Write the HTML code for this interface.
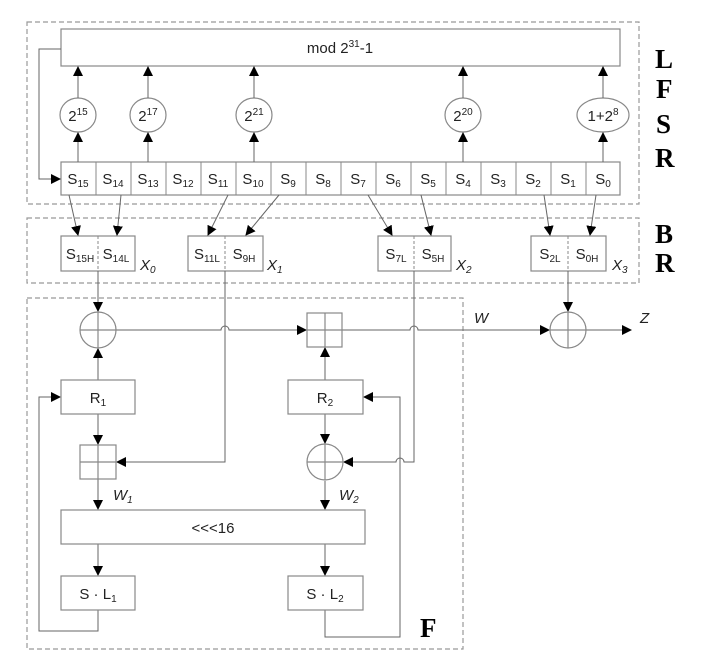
<!DOCTYPE html>
<html><head><meta charset="utf-8"><style>
html,body{margin:0;padding:0;background:#fff;}
svg{display:block;}
text{font-family:"Liberation Sans",sans-serif;fill:#222;}
.b{font-family:"Liberation Serif",serif;font-weight:bold;font-size:27px;fill:#000;}
</style></head><body>
<svg width="724" height="663" viewBox="0 0 724 663" xmlns="http://www.w3.org/2000/svg">
<defs>
<marker id="a" markerWidth="10" markerHeight="10" refX="9" refY="5" orient="auto" markerUnits="userSpaceOnUse">
<path d="M0,0 L10,5 L0,10 Z" fill="#000"/></marker>
</defs>
<g fill="none" stroke="#999" stroke-width="1.2" stroke-dasharray="5,3">
<rect x="27" y="22" width="612" height="182"/>
<rect x="27" y="218" width="612" height="65"/>
<rect x="27" y="298" width="436" height="351"/>
</g>
<g fill="#fff" stroke="#888" stroke-width="1.2">
<rect x="61" y="29" width="559" height="37"/>
<rect x="61" y="162" width="559" height="33"/>
<ellipse cx="78" cy="115" rx="18" ry="17"/>
<ellipse cx="148" cy="115" rx="18" ry="17"/>
<ellipse cx="254" cy="115" rx="18" ry="17"/>
<ellipse cx="463" cy="115" rx="18" ry="17"/>
<ellipse cx="603" cy="115" rx="26" ry="17"/>
<rect x="61" y="236" width="74" height="35"/>
<rect x="188" y="236" width="75" height="35"/>
<rect x="378" y="236" width="73" height="35"/>
<rect x="531" y="236" width="75" height="35"/>
</g>
<g stroke="#888" stroke-width="1">
<line x1="96" y1="162" x2="96" y2="195"/><line x1="131" y1="162" x2="131" y2="195"/>
<line x1="166" y1="162" x2="166" y2="195"/><line x1="201" y1="162" x2="201" y2="195"/>
<line x1="236" y1="162" x2="236" y2="195"/><line x1="271" y1="162" x2="271" y2="195"/>
<line x1="306" y1="162" x2="306" y2="195"/><line x1="341" y1="162" x2="341" y2="195"/>
<line x1="376" y1="162" x2="376" y2="195"/><line x1="411" y1="162" x2="411" y2="195"/>
<line x1="446" y1="162" x2="446" y2="195"/><line x1="481" y1="162" x2="481" y2="195"/>
<line x1="516" y1="162" x2="516" y2="195"/><line x1="551" y1="162" x2="551" y2="195"/>
<line x1="586" y1="162" x2="586" y2="195"/>
</g>
<g stroke="#888" stroke-width="1" stroke-dasharray="3,2">
<line x1="98" y1="236" x2="98" y2="271"/><line x1="225" y1="236" x2="225" y2="271"/>
<line x1="414" y1="236" x2="414" y2="271"/><line x1="568" y1="236" x2="568" y2="271"/>
</g>
<!-- arrows LFSR -->
<g stroke="#666" stroke-width="1" fill="none">
<line x1="78" y1="98" x2="78" y2="67" marker-end="url(#a)"/>
<line x1="148" y1="98" x2="148" y2="67" marker-end="url(#a)"/>
<line x1="254" y1="98" x2="254" y2="67" marker-end="url(#a)"/>
<line x1="463" y1="98" x2="463" y2="67" marker-end="url(#a)"/>
<line x1="603" y1="98" x2="603" y2="67" marker-end="url(#a)"/>
<line x1="78" y1="162" x2="78" y2="133" marker-end="url(#a)"/>
<line x1="148" y1="162" x2="148" y2="133" marker-end="url(#a)"/>
<line x1="254" y1="162" x2="254" y2="133" marker-end="url(#a)"/>
<line x1="463" y1="162" x2="463" y2="133" marker-end="url(#a)"/>
<line x1="603" y1="162" x2="603" y2="133" marker-end="url(#a)"/>
<polyline points="61,49 39,49 39,179 60,179" marker-end="url(#a)"/>
<line x1="69" y1="195" x2="78" y2="235" marker-end="url(#a)"/>
<line x1="121" y1="195" x2="117" y2="235" marker-end="url(#a)"/>
<line x1="228" y1="195" x2="208" y2="235" marker-end="url(#a)"/>
<line x1="279" y1="195" x2="246" y2="235" marker-end="url(#a)"/>
<line x1="368" y1="195" x2="392" y2="235" marker-end="url(#a)"/>
<line x1="421" y1="195" x2="431" y2="235" marker-end="url(#a)"/>
<line x1="544" y1="195" x2="550" y2="235" marker-end="url(#a)"/>
<line x1="596" y1="195" x2="590" y2="235" marker-end="url(#a)"/>
<!-- F -->
<line x1="98" y1="271" x2="98" y2="311" marker-end="url(#a)"/>
<line x1="568" y1="271" x2="568" y2="311" marker-end="url(#a)"/>
<path d="M116,330 H221 A4,4 0 0 1 229,330 H306" marker-end="url(#a)"/>
<path d="M342,330 H410 A4,4 0 0 1 418,330 H549" marker-end="url(#a)"/>
<line x1="586" y1="330" x2="631" y2="330" marker-end="url(#a)"/>
<polyline points="225,271 225,462 117,462" marker-end="url(#a)"/>
<path d="M414,271 V462 H404 A4,4 0 0 0 396,462 H344" marker-end="url(#a)"/>
<line x1="98" y1="380" x2="98" y2="349" marker-end="url(#a)"/>
<line x1="325" y1="380" x2="325" y2="348" marker-end="url(#a)"/>
<line x1="98" y1="414" x2="98" y2="444" marker-end="url(#a)"/>
<line x1="325" y1="414" x2="325" y2="443" marker-end="url(#a)"/>
<line x1="98" y1="479" x2="98" y2="509" marker-end="url(#a)"/>
<line x1="325" y1="481" x2="325" y2="509" marker-end="url(#a)"/>
<line x1="98" y1="544" x2="98" y2="575" marker-end="url(#a)"/>
<line x1="325" y1="544" x2="325" y2="575" marker-end="url(#a)"/>
<polyline points="98,610 98,631 39,631 39,397 60,397" marker-end="url(#a)"/>
<polyline points="325,610 325,637 400,637 400,397 364,397" marker-end="url(#a)"/>
</g>
<g fill="none" stroke="#888" stroke-width="1.2">
<ellipse cx="98" cy="330" rx="18" ry="18"/>
<ellipse cx="568" cy="330" rx="18" ry="18"/>
<ellipse cx="325" cy="462" rx="18" ry="18"/>
<rect x="307" y="313" width="35" height="34"/>
<rect x="80" y="445" width="36" height="34"/>
<rect x="61" y="380" width="74" height="34"/>
<rect x="288" y="380" width="75" height="34"/>
<rect x="61" y="510" width="304" height="34"/>
<rect x="61" y="576" width="74" height="34"/>
<rect x="288" y="576" width="75" height="34"/>
<line x1="80" y1="330" x2="116" y2="330"/><line x1="98" y1="312" x2="98" y2="348"/>
<line x1="550" y1="330" x2="586" y2="330"/><line x1="568" y1="312" x2="568" y2="348"/>
<line x1="307" y1="462" x2="343" y2="462"/><line x1="325" y1="444" x2="325" y2="480"/>
<line x1="307" y1="330" x2="342" y2="330"/><line x1="325" y1="313" x2="325" y2="347"/>
<line x1="80" y1="462" x2="116" y2="462"/><line x1="98" y1="445" x2="98" y2="479"/>
</g>
<g font-size="15">
<text x="340" y="53" text-anchor="middle">mod 2<tspan font-size="10" dy="-6">31</tspan><tspan dy="6">-1</tspan></text>
<text x="78" y="121" text-anchor="middle">2<tspan font-size="10" dy="-6">15</tspan></text>
<text x="148" y="121" text-anchor="middle">2<tspan font-size="10" dy="-6">17</tspan></text>
<text x="254" y="121" text-anchor="middle">2<tspan font-size="10" dy="-6">21</tspan></text>
<text x="463" y="121" text-anchor="middle">2<tspan font-size="10" dy="-6">20</tspan></text>
<text x="603" y="121" text-anchor="middle">1+2<tspan font-size="10" dy="-6">8</tspan></text>
</g>
<g font-size="15" text-anchor="middle">
<text x="78" y="184">S<tspan font-size="10" dy="3">15</tspan></text>
<text x="113" y="184">S<tspan font-size="10" dy="3">14</tspan></text>
<text x="148" y="184">S<tspan font-size="10" dy="3">13</tspan></text>
<text x="183" y="184">S<tspan font-size="10" dy="3">12</tspan></text>
<text x="218" y="184">S<tspan font-size="10" dy="3">11</tspan></text>
<text x="253" y="184">S<tspan font-size="10" dy="3">10</tspan></text>
<text x="288" y="184">S<tspan font-size="10" dy="3">9</tspan></text>
<text x="323" y="184">S<tspan font-size="10" dy="3">8</tspan></text>
<text x="358" y="184">S<tspan font-size="10" dy="3">7</tspan></text>
<text x="393" y="184">S<tspan font-size="10" dy="3">6</tspan></text>
<text x="428" y="184">S<tspan font-size="10" dy="3">5</tspan></text>
<text x="463" y="184">S<tspan font-size="10" dy="3">4</tspan></text>
<text x="498" y="184">S<tspan font-size="10" dy="3">3</tspan></text>
<text x="533" y="184">S<tspan font-size="10" dy="3">2</tspan></text>
<text x="568" y="184">S<tspan font-size="10" dy="3">1</tspan></text>
<text x="603" y="184">S<tspan font-size="10" dy="3">0</tspan></text>
<text x="80" y="259">S<tspan font-size="10" dy="3">15H</tspan></text>
<text x="116" y="259">S<tspan font-size="10" dy="3">14L</tspan></text>
<text x="207" y="259">S<tspan font-size="10" dy="3">11L</tspan></text>
<text x="244" y="259">S<tspan font-size="10" dy="3">9H</tspan></text>
<text x="396" y="259">S<tspan font-size="10" dy="3">7L</tspan></text>
<text x="433" y="259">S<tspan font-size="10" dy="3">5H</tspan></text>
<text x="550" y="259">S<tspan font-size="10" dy="3">2L</tspan></text>
<text x="587" y="259">S<tspan font-size="10" dy="3">0H</tspan></text>
<text x="98" y="403">R<tspan font-size="10" dy="3">1</tspan></text>
<text x="325" y="403">R<tspan font-size="10" dy="3">2</tspan></text>
<text x="213" y="533">&lt;&lt;&lt;16</text>
<text x="98" y="599">S · L<tspan font-size="10" dy="3">1</tspan></text>
<text x="325" y="599">S · L<tspan font-size="10" dy="3">2</tspan></text>
</g>
<g font-size="15" font-style="italic">
<text x="140" y="270">X<tspan font-size="10" dy="3">0</tspan></text>
<text x="267" y="270">X<tspan font-size="10" dy="3">1</tspan></text>
<text x="456" y="270">X<tspan font-size="10" dy="3">2</tspan></text>
<text x="612" y="270">X<tspan font-size="10" dy="3">3</tspan></text>
<text x="113" y="500">W<tspan font-size="10" dy="3">1</tspan></text>
<text x="339" y="500">W<tspan font-size="10" dy="3">2</tspan></text>
<text x="474" y="323">W</text>
<text x="640" y="323">Z</text>
</g>
<text class="b" x="655" y="68">L</text>
<text class="b" x="656" y="98">F</text>
<text class="b" x="656" y="133">S</text>
<text class="b" x="655" y="167">R</text>
<text class="b" x="655" y="243">B</text>
<text class="b" x="655" y="272">R</text>
<text class="b" x="420" y="637">F</text>
</svg>
</body></html>
